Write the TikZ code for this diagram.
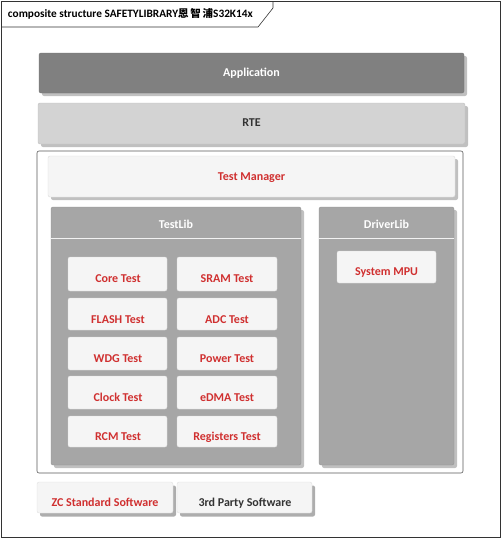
\documentclass[tikz,border=0pt]{standalone}
\usepackage{fontspec}
\setmainfont{Carlito}
\newfontfamily\cjk{Noto Sans CJK SC}
\usetikzlibrary{shadows}
\definecolor{redtxt}{HTML}{D03030}
\definecolor{darktxt}{HTML}{333333}
\definecolor{appgray}{HTML}{808080}
\definecolor{rtegray}{HTML}{D3D3D3}
\definecolor{libgray}{HTML}{A6A6A6}
\definecolor{boxwhite}{HTML}{F5F5F5}
\definecolor{shadowgray}{HTML}{C0C0C0}
\newcommand\blk[7]{%
  \node[#6, minimum width={(#4-#2)*1pt}, minimum height={(#5-#3)*1pt}]
    (#1) at ({(#2+#4)/2},{(#3+#5)/2}) {#7};}
\begin{document}
\begin{tikzpicture}[x=1pt,y=-1pt,
  font=\fontsize{12}{14}\selectfont\bfseries,
  every node/.style={inner sep=0pt,outer sep=0pt},
  base/.style={rounded corners=2pt, draw=#1!90!black, line width=0.4pt,
    drop shadow={shadow xshift=3pt, shadow yshift=-3pt, fill=shadowgray, opacity=1}},
  appbox/.style={base=appgray, fill=appgray, text=white},
  rtebox/.style={base=rtegray, fill=rtegray, text=darktxt},
  tmbox/.style={base=boxwhite, fill=boxwhite, text=redtxt},
  libbox/.style={base=libgray, fill=libgray},
  testbox/.style={rounded corners=2pt, fill=boxwhite, draw=boxwhite!90!black, line width=0.3pt, text=redtxt},
  swbox/.style={rounded corners=2pt, fill=boxwhite, draw=boxwhite!90!black, line width=0.3pt,
    drop shadow={shadow xshift=3pt, shadow yshift=-3.5pt, fill=shadowgray!90!black, opacity=1}},
  lbl/.style={text=#1, anchor=base},
  hdr/.style={text=white, anchor=base},
  frameline/.style={draw=black!80, line width=0.6pt}
]
\useasboundingbox (0,0) rectangle (502,538);
% frame
\draw[frameline] (1,1) rectangle (500,537);
\draw[frameline] (1,27) -- (258,27) -- (273,8) -- (273,1);
\node[anchor=west, font=\fontsize{11.3}{13}\selectfont\bfseries] (title) at (8,14)
  {composite structure SAFETYLIBRARY{\cjk\fontsize{10.5}{12}\selectfont 恩\,智\,浦}S32K14x};
% layers
\blk{app}{39}{53}{464}{93}{appbox}{}
\node[lbl=white] (apptxt) at (251.5,76) {Application};
\blk{rte}{38}{103}{465}{144}{rtebox}{}
\node[lbl=darktxt] (rtetxt) at (251.5,126) {RTE};
\node[draw=black!65, rounded corners=2pt, line width=0.6pt, fill=white,
  minimum width=426pt, minimum height=322pt] (cont) at (250,312) {};
\blk{tm}{48}{156}{455}{197}{tmbox}{}
\node[lbl=redtxt] (tmtxt) at (251.5,180) {Test Manager};
% TestLib
\blk{testlib}{51}{207}{301}{465}{libbox}{}
\node[hdr] (testlibhdr) at (176,228) {TestLib};
\draw[white!85!libgray, line width=1pt] (testlib.west |- 0,238) -- (testlib.east |- 0,238);
% DriverLib
\blk{drvlib}{319}{207}{454}{465}{libbox}{}
\node[hdr] (drvlibhdr) at (386.5,228) {DriverLib};
\draw[white!85!libgray, line width=1pt] (drvlib.west |- 0,238) -- (drvlib.east |- 0,238);
\blk{mpu}{337}{251}{436}{283}{testbox}{}
\node[lbl=redtxt] (mputxt) at (386.5,275) {System MPU};
% tests
\blk{core}{68}{257}{167}{291}{testbox}{}
\blk{sram}{177}{257}{277}{291}{testbox}{}
\blk{flash}{68}{298}{167}{330}{testbox}{}
\blk{adc}{177}{298}{277}{330}{testbox}{}
\blk{wdg}{68}{337}{167}{370}{testbox}{}
\blk{power}{177}{337}{277}{370}{testbox}{}
\blk{clock}{68}{376}{167}{409}{testbox}{}
\blk{edma}{177}{376}{277}{409}{testbox}{}
\blk{rcm}{68}{416}{167}{447}{testbox}{}
\blk{regs}{177}{416}{277}{447}{testbox}{}
\node[lbl=redtxt] (coretxt) at (118,282) {Core Test};
\node[lbl=redtxt] (sramtxt) at (227,282) {SRAM Test};
\node[lbl=redtxt] (flashtxt) at (118,323) {FLASH Test};
\node[lbl=redtxt] (adctxt) at (227,323) {ADC Test};
\node[lbl=redtxt] (wdgtxt) at (118,362) {WDG Test};
\node[lbl=redtxt] (powertxt) at (227,362) {Power Test};
\node[lbl=redtxt] (clocktxt) at (118,401) {Clock Test};
\node[lbl=redtxt] (edmatxt) at (227,401) {eDMA Test};
\node[lbl=redtxt] (rcmtxt) at (118,440) {RCM Test};
\node[lbl=redtxt] (regstxt) at (227,440) {Registers Test};
% bottom
\blk{zc}{37}{482}{173}{513}{swbox}{}
\blk{third}{177}{482}{312}{513}{swbox}{}
\node[lbl=redtxt] (zctxt) at (105,506) {ZC Standard Software};
\node[lbl=darktxt] (thirdtxt) at (245,506) {3rd Party Software};
\end{tikzpicture}
\end{document}
